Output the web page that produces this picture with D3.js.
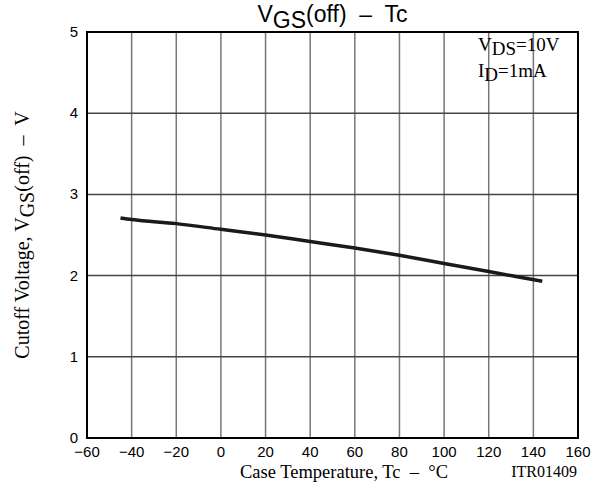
<!DOCTYPE html>
<html>
<head>
<meta charset="utf-8">
<script src="https://cdn.jsdelivr.net/npm/d3@7"></script>
<style>
	body { margin: 0; background: #fff; }
	text { white-space: pre; }
	.tick-lbl { font-family: 'Liberation Sans', Arial, sans-serif; font-size: 15px; fill: #000; }
	.serif { font-family: 'Liberation Serif', 'Times New Roman', serif; fill: #000; }
</style>
</head>
<body>
<div id="chart"></div>
<script>
// curve data
var temps = [-45, -40, -20, 0, 20, 40, 60, 80, 100, 120, 144];
var volts = [2.71, 2.69, 2.64, 2.57, 2.50, 2.42, 2.34, 2.25, 2.15, 2.05, 1.93];
var x_ticks = [-60, -40, -20, 0, 20, 40, 60, 80, 100, 120, 140, 160];
var y_ticks = [0, 1, 2, 3, 4, 5];

var margin = {top: 32, right: 19, bottom: 50, left: 87};
var width = 597 - margin.left - margin.right;
var height = 488 - margin.top - margin.bottom;

var svg = d3.select('#chart')
	.append('svg')
	.attr('width', 597)
	.attr('height', 488);

var g = svg.append('g')
	.attr('transform', 'translate(' + margin.left + ',' + margin.top + ')');

var x = d3.scaleLinear().domain([-60, 160]).range([0, width]);
var y = d3.scaleLinear().domain([0, 5]).range([height, 0]);

// grid
g.selectAll('.vgrid')
	.data(x_ticks.slice(1, -1))
	.enter()
	.append('line')
		.attr('x1', d => x(d)).attr('x2', d => x(d))
		.attr('y1', 0).attr('y2', height)
		.attr('stroke', '#777')
		.attr('stroke-width', 1.5);
g.selectAll('.hgrid')
	.data(y_ticks.slice(1, -1))
	.enter()
	.append('line')
		.attr('x1', 0).attr('x2', width)
		.attr('y1', d => y(d)).attr('y2', d => y(d))
		.attr('stroke', '#444')
		.attr('stroke-width', 1.5);

// frame
g.append('rect')
	.attr('width', width)
	.attr('height', height)
	.attr('fill', 'none')
	.attr('stroke', '#000')
	.attr('stroke-width', 2);

// tick labels
var fmt = d => d < 0 ? '\u2212' + Math.abs(d) : d;
g.selectAll('.xl')
	.data(x_ticks)
	.enter()
	.append('text')
		.attr('class', 'tick-lbl')
		.attr('x', d => x(d))
		.attr('y', height + 19)
		.attr('text-anchor', 'middle')
		.text(fmt);
g.selectAll('.yl')
	.data(y_ticks)
	.enter()
	.append('text')
		.attr('class', 'tick-lbl')
		.attr('x', -9)
		.attr('y', d => y(d) + 5)
		.attr('text-anchor', 'end')
		.text(d => d);

// curve
var pts = temps.map((t, i) => [t, volts[i]]);
g.append('path')
	.datum(pts)
	.attr('fill', 'none')
	.attr('stroke', '#1a1a1a')
	.attr('stroke-width', 3.5)
	.attr('d', d3.line().x(d => x(d[0])).y(d => y(d[1])).curve(d3.curveMonotoneX));

// title
var title = svg.append('text')
	.attr('x', margin.left + width / 2)
	.attr('y', 22)
	.attr('text-anchor', 'middle')
	.style('font-family', "'Liberation Sans', Arial, sans-serif")
	.style('font-size', '23px');
title.append('tspan').text('V');
title.append('tspan').attr('dy', 6).text('GS');
title.append('tspan').attr('dy', -6).text('(off)  \u2013  Tc');

// conditions
var c1 = svg.append('text').attr('class', 'serif').attr('x', 478).attr('y', 51).style('font-size', '19px');
c1.append('tspan').text('V');
c1.append('tspan').attr('dy', 4).text('DS');
c1.append('tspan').attr('dy', -4).text('=10V');
var c2 = svg.append('text').attr('class', 'serif').attr('x', 478).attr('y', 77).style('font-size', '19px');
c2.append('tspan').text('I');
c2.append('tspan').attr('dy', 4).text('D');
c2.append('tspan').attr('dy', -4).text('=1mA');

// axis labels
svg.append('text')
	.attr('class', 'serif')
	.attr('x', 344)
	.attr('y', 478)
	.attr('text-anchor', 'middle')
	.style('font-size', '18.5px')
	.text('Case Temperature, Tc  \u2013  \u00B0C');

svg.append('text')
	.attr('class', 'serif')
	.attr('x', 577)
	.attr('y', 477)
	.attr('text-anchor', 'end')
	.style('font-size', '16px')
	.text('ITR01409');

var yl = svg.append('text')
	.attr('class', 'serif')
	.attr('transform', 'translate(29,' + (margin.top + height / 2) + ') rotate(-90)')
	.attr('text-anchor', 'middle')
	.style('font-size', '20px');
yl.append('tspan').text('Cutoff Voltage, V');
yl.append('tspan').attr('dy', 5).text('GS');
yl.append('tspan').attr('dy', -5).text('(off)  \u2013  V');
</script>
</body>
</html>
